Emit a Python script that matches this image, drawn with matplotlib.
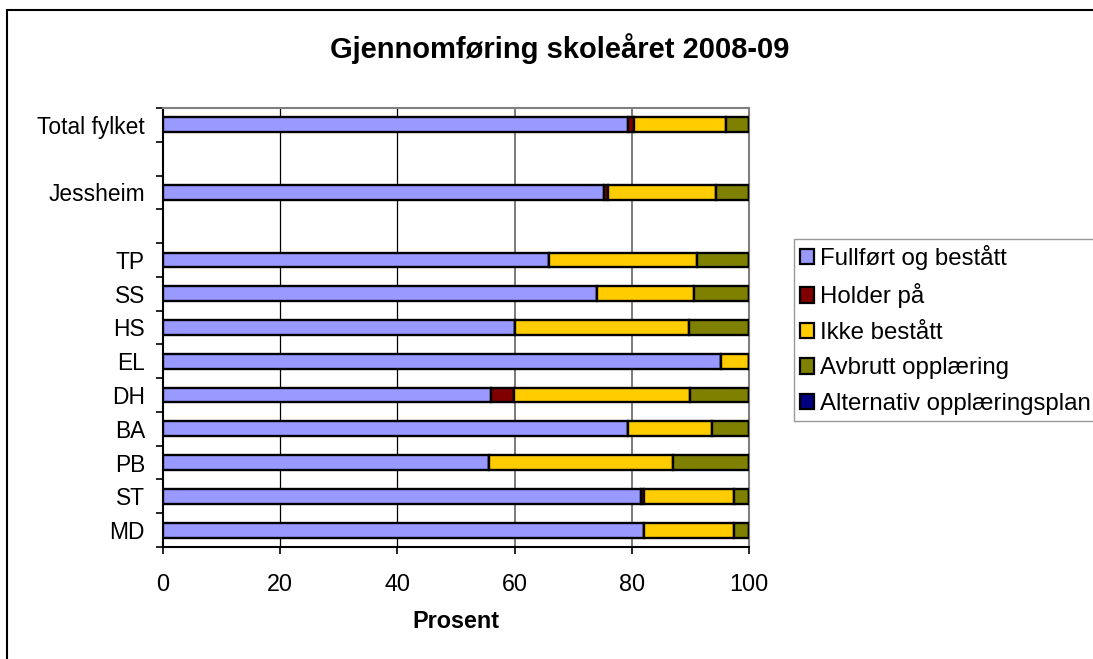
import numpy as np
import matplotlib
matplotlib.use('Agg')
import matplotlib.pyplot as plt
from matplotlib.patches import Rectangle

plt.rcParams['font.family'] = ['Liberation Sans', 'DejaVu Sans']

# Kategorier nedenfra og opp, tomme plasser gir luft i diagrammet
categories = ['MD', 'ST', 'PB', 'BA', 'DH', 'EL', 'HS', 'SS', 'TP', '', 'Jessheim', '', 'Total fylket']

fullfort = [82.1, 81.5, 55.6, 79.4, 56.0, 95.3, 60.1, 74.0, 65.9, None, 75.3, None, 79.4]
holder_pa = [0.0, 0.6, 0.0, 0.0, 3.9, 0.0, 0.0, 0.0, 0.0, None, 0.6, None, 0.9]
ikke_bestatt = [15.3, 15.3, 31.5, 14.3, 30.1, 4.7, 29.6, 16.6, 25.3, None, 18.4, None, 15.7]
avbrutt = [2.6, 2.6, 12.9, 6.3, 10.0, 0.0, 10.3, 9.4, 8.8, None, 5.7, None, 4.0]
alternativ = [0.0, 0.0, 0.0, 0.0, 0.0, 0.0, 0.0, 0.0, 0.0, None, 0.0, None, 0.0]

series_names = ['Fullført og bestått', 'Holder på', 'Ikke bestått',
                'Avbrutt opplæring', 'Alternativ opplæringsplan']
series_colors = ['#9999FF', '#800000', '#FFCC00', '#808000', '#000080']

fig = plt.figure(figsize=(10.93, 6.59), dpi=100)
ax = fig.add_axes([0.1491, 0.1700, 0.5362, 0.6661])

pos = np.arange(len(categories))
left = np.zeros(len(categories))
all_series = [fullfort, holder_pa, ikke_bestatt, avbrutt, alternativ]
for vals, name, col in zip(all_series, series_names, series_colors):
    v = np.array([np.nan if x is None else x for x in vals], dtype=float)
    ax.barh(pos, v, left=left, height=0.44, color=col, edgecolor='black',
            linewidth=1.7, label=name, zorder=3)
    left = left + np.nan_to_num(v)

ax.set_xlim(0, 100)
ax.set_ylim(-0.5, len(categories) - 0.5)
ax.set_xticks([0, 20, 40, 60, 80, 100])
ax.set_yticks(pos)
ax.set_yticklabels(categories)
ax.set_yticks(np.arange(-0.5, len(categories), 1.0), minor=True)
ax.tick_params(axis='y', which='major', length=0, pad=13, labelsize=16.4)
ax.tick_params(axis='y', which='minor', length=5, width=1.2, direction='out')
ax.tick_params(axis='x', length=5, width=1.2, direction='out', pad=14, labelsize=16.8)

# vertikale rutenettlinjer
for g in [20, 40]:
    ax.axvline(g, color='black', linewidth=0.9, zorder=1)
for g in [60, 80]:
    ax.axvline(g, color='#707070', linewidth=1.3, zorder=1)

ax.spines['left'].set_color('black')
ax.spines['bottom'].set_color('black')
ax.spines['top'].set_color('#808080')
ax.spines['right'].set_color('#808080')
for s in ax.spines.values():
    s.set_linewidth(1.5)

ax.set_xlabel('Prosent', fontsize=16.8, fontweight='bold', labelpad=10)
fig.text(0.512, 0.927, 'Gjennomføring skoleåret 2008-09', ha='center', va='center',
         fontsize=21, fontweight='bold')

leg = ax.legend(loc='upper left', bbox_to_anchor=(0.7264, 0.6373),
                bbox_transform=fig.transFigure, fontsize=17.3, frameon=True,
                fancybox=False, edgecolor='#808080', borderaxespad=0,
                handlelength=0.6, handleheight=0.6, handletextpad=0.25,
                labelspacing=0.56, borderpad=0.25)
leg.get_frame().set_linewidth(1.0)
for h in leg.legend_handles:
    h.set_linewidth(1.6)

# ramme rundt hele diagrammet
fig.patches.append(Rectangle((7 / 1093, -0.1), 1.2, 1.1 - 10 / 659, transform=fig.transFigure,
                             fill=False, edgecolor='black', linewidth=1.5))

fig.savefig('out.png', dpi=100, facecolor='white')
